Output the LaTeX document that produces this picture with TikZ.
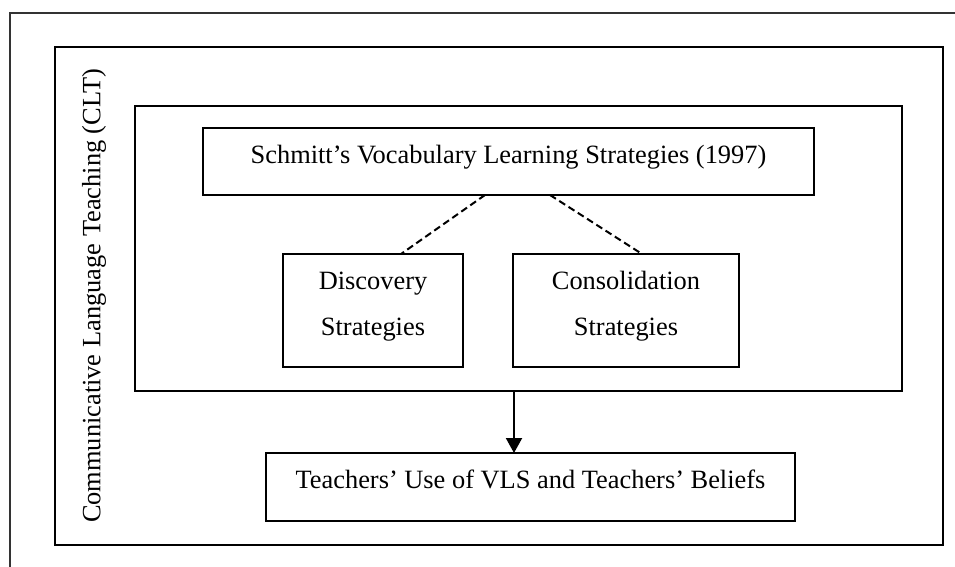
\documentclass[tikz,border=0pt]{standalone}
\usepackage{fontspec}
\setmainfont{Liberation Serif}
\usetikzlibrary{arrows.meta}
\begin{document}
\begin{tikzpicture}[x=1pt,y=-1pt,
	box/.style={draw, line width=2.4pt, inner sep=0pt, outer sep=0pt},
	oneline/.style={text height=18pt, text depth=15pt},
	twoline/.style={align=center, text height=64pt, text depth=15pt},
	font=\fontsize{26.4}{46}\selectfont]
	\useasboundingbox (0,0) rectangle (955,567);
	
	% outer frame
	\draw[line width=1.4pt, gray!40!black] (10,567) -- (10,13) -- (955,13);
	
	% CLT frame and its label
	\node[box, minimum width=888pt, minimum height=498pt] (clt) at (499,296) {};
	\node[rotate=90] (cltlabel) at (94,296) {Communicative Language Teaching (CLT)};
	
	% strategies frame
	\node[box, minimum width=767pt, minimum height=285pt] (inner) at (518.5,248.5) {};
	\node[box, oneline, minimum width=611pt, minimum height=67pt] (schmitt) at (508.5,161.5) {Schmitt’s Vocabulary Learning Strategies (1997)};
	\node[box, twoline, minimum width=180pt, minimum height=113pt] (disc) at (373,310.5) {Discovery\\Strategies};
	\node[box, twoline, minimum width=226pt, minimum height=113pt] (cons) at (626,310.5) {Consolidation\\Strategies};
	\draw[line width=2pt, dash pattern=on 7pt off 4pt] ([xshift=-23.5pt]schmitt.south) -- ([xshift=28pt]disc.north);
	\draw[line width=2pt, dash pattern=on 7pt off 4pt] ([xshift=41.5pt]schmitt.south) -- ([xshift=16pt]cons.north);
	
	% beliefs
	\node[box, oneline, minimum width=529pt, minimum height=68pt] (teach) at (530.5,487) {Teachers’ Use of VLS and Teachers’ Beliefs};
	\draw[-{Triangle[length=15pt,width=16pt]}, line width=2pt] ([xshift=-4.5pt]inner.south) -- ([xshift=-4.5pt]inner.south |- teach.north);
	
\end{tikzpicture}
\end{document}
